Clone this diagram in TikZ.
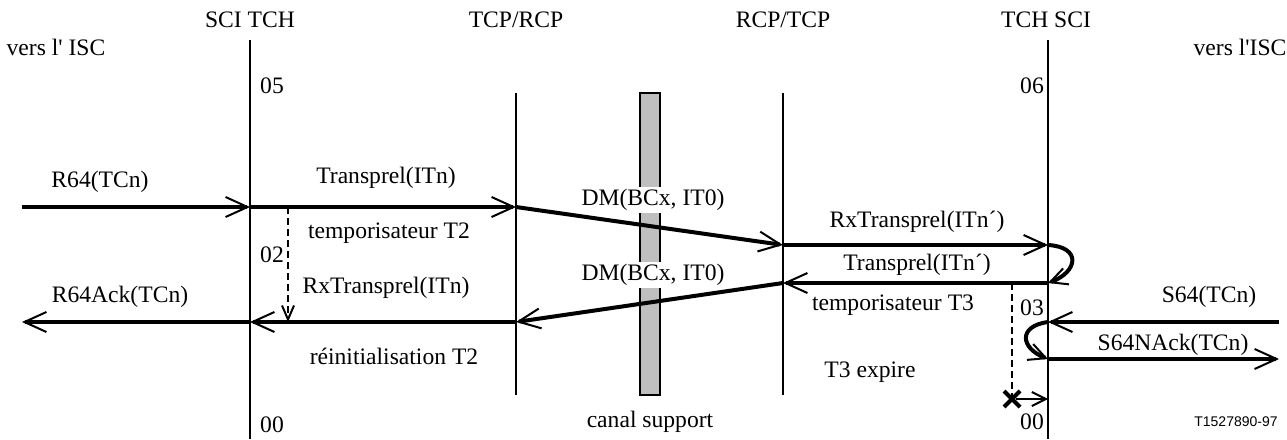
\documentclass[tikz,border=0pt]{standalone}
\usepackage{fontspec}
\setmainfont{Liberation Serif}[Ligatures=TeXOff]
\newfontfamily\reffont{Liberation Sans}
\usetikzlibrary{arrows.meta}
\begin{document}
\begin{tikzpicture}[x=1pt,y=-1pt,
  txt/.style={font=\fontsize{23.6}{28}\selectfont, inner sep=1pt},
  wtxt/.style={txt, fill=white, inner sep=2pt},
  life/.style={line width=2.5pt},
  thinlife/.style={line width=2pt},
  msg/.style={line width=4pt, -{Straight Barb[length=22pt,width=20pt,line width=2pt]}},
  loopmsg/.style={line width=4pt, -{Straight Barb[length=17pt,width=17pt,line width=2pt]}},
  timer/.style={line width=2pt, dash pattern=on 7pt off 4pt},
  timerarrow/.style={timer, -{Straight Barb[length=14pt,width=12pt,line width=2pt,sharp]}},
  smallarrow/.style={line width=2pt, -{Straight Barb[length=14pt,width=14pt,line width=2pt]}},
  barst/.style={fill=black!25, draw=black, line width=2.5pt},
  ]
\useasboundingbox (0,0) rectangle (1287,439);

% lifelines
\coordinate (Atop) at (250,40);  \coordinate (Abot) at (250,439);
\coordinate (Btop) at (516,93);  \coordinate (Bbot) at (516,395);
\coordinate (Ctop) at (783,93);  \coordinate (Cbot) at (783,395);
\coordinate (Dtop) at (1048,40); \coordinate (Dbot) at (1048,439);
\draw[life] (Atop) -- (Abot);
\draw[thinlife] (Btop) -- (Bbot);
\draw[thinlife] (Ctop) -- (Cbot);
\draw[life] (Dtop) -- (Dbot);
\draw[barst] (640,93) rectangle (660,395);

% headers
\node[txt] (hA) at (250,20) {SCI TCH};
\node[txt] (hB) at (516,20) {TCP/RCP};
\node[txt] (hC) at (783,20) {RCP/TCP};
\node[txt] (hD) at (1046,20) {TCH SCI};
\node[txt] (vl) at (56,47) {vers l' ISC};
\node[txt] (vr) at (1240,47) {vers l'ISC};
\node[txt] (n05) at (272,86) {05};
\node[txt] (n06) at (1032,86) {06};
\node[txt] (n00a) at (272,425) {00};
\node[txt] (n00b) at (1032,422) {00};
\node[txt] (canal) at (650,422) {canal support};
\node[font=\reffont\fontsize{14}{16}\selectfont, inner sep=0pt] (ref) at (1236,422) {T1527890-97};

% coordinates for messages
\coordinate (L1) at (22,207);   \coordinate (A1) at (250,207);
\coordinate (B1) at (516,207);  \coordinate (C1) at (783,245);
\coordinate (D1) at (1048,245); \coordinate (D2) at (1048,283);
\coordinate (C2) at (783,283);  \coordinate (B2) at (516,322);
\coordinate (A2) at (250,322);  \coordinate (L2) at (22,322);
\coordinate (R3) at (1279,322); \coordinate (D3) at (1048,322);
\coordinate (D4) at (1048,359); \coordinate (R4) at (1279,359);
\coordinate (T2s) at (288,207); \coordinate (T2e) at (288,322);
\coordinate (T3s) at (1012,283); \coordinate (X) at (1012,399);
\coordinate (D5) at (1048,399);

\draw[msg] (L1) -- (A1);
\draw[msg] (A1) -- (B1);
\draw[msg] (B1) -- (C1);
\draw[msg] (C1) -- (D1);
\draw[loopmsg] (D1) .. controls (1082,247) and (1078,272) .. (D2);
\draw[msg] (D2) -- (C2);
\draw[msg] (C2) -- (B2);
\draw[msg] (B2) -- (A2);
\draw[msg] (A2) -- (L2);
\draw[msg] (R3) -- (D3);
\draw[loopmsg] (D3) .. controls (1018,326) and (1020,348) .. (D4);
\draw[msg] (D4) -- (R4);

% timers
\draw[timerarrow] (T2s) -- (T2e);
\draw[timer] (T3s) -- (X);
\draw[line width=4pt] ([shift={(-8,-8)}]X) -- ([shift={(8,8)}]X);
\draw[line width=4pt] ([shift={(-8,8)}]X) -- ([shift={(8,-8)}]X);
\draw[smallarrow] ([xshift=4pt]X) -- (D5);

% labels
\node[txt] (lR64) at (100,182) {R64(TCn)};
\node[txt] (lTr) at (386,178) {Transprel(ITn)};
\node[wtxt] (lDM1) at (653,200) {DM(BCx, IT0)};
\node[txt] (lRxp) at (917,222) {RxTransprel(ITn´)};
\node[txt] (lTrp) at (917,265) {Transprel(ITn´)};
\node[wtxt] (lDM2) at (653,275) {DM(BCx, IT0)};
\node[txt] (lT3) at (893,305) {temporisateur T3};
\node[txt] (lT2) at (389,233) {temporisateur T2};
\node[txt] (l02) at (272,255) {02};
\node[txt] (lRx) at (386,288) {RxTransprel(ITn)};
\node[txt] (lAck) at (120,297) {R64Ack(TCn)};
\node[txt] (l03) at (1032,308) {03};
\node[txt] (lS64) at (1209,297) {S64(TCn)};
\node[txt] (lNack) at (1173,345) {S64NAck(TCn)};
\node[txt] (lreinit) at (394,356) {réinitialisation T2};
\node[txt] (lexp) at (870,372) {T3 expire};
\end{tikzpicture}
\end{document}
